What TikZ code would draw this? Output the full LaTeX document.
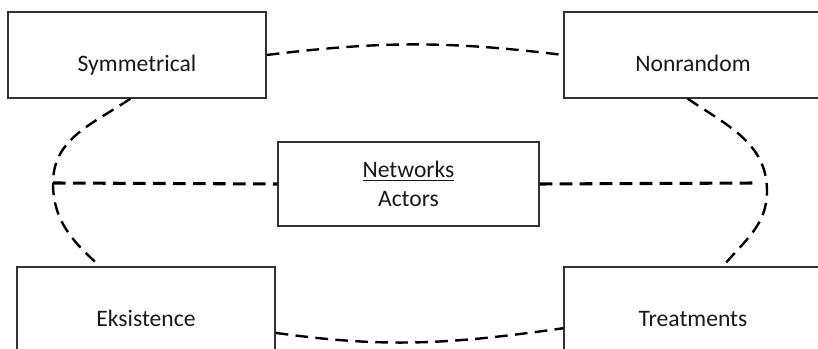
\documentclass[tikz,border=0pt]{standalone}
\usepackage{fontspec}
\setmainfont{Carlito}
\tikzset{
  BaseNode/.style = {draw=black!80, line width=1.1pt, inner sep=0pt, text=black!90, font=\fontsize{17.7}{21.5}\selectfont},
  CornerNode/.style = {BaseNode, rectangle, minimum width=193.5pt, minimum height=64.5pt, text height=45pt, text depth=19.5pt},
  HubNode/.style = {BaseNode, rectangle, align=center, minimum width=195.75pt, minimum height=63pt},
  ArcLine/.style = {line width=1.8pt, dash pattern=on 9.5pt off 5.5pt},
  SpokeLine/.style = {line width=2.3pt, dash pattern=on 9.5pt off 5.5pt},
}
\begin{document}
\begin{tikzpicture}[x=0.75pt,y=0.75pt]
    \useasboundingbox (0,0) rectangle (818,349);
    % the five boxes
    \node [CornerNode] (sym) at (137,294) {Symmetrical};
    \node [CornerNode] (non) at (693,294) {Nonrandom};
    \node [CornerNode] (eks) at (146,39) {Eksistence};
    \node [CornerNode] (tre) at (693,39) {Treatments};
    \node [HubNode] (cen) at (408.5,165) {\underline{Networks}\\Actors};
    % ends of the side arcs
    \coordinate (lft) at (53,166);
    \coordinate (rgt) at (767,158);
    \coordinate (rgtend) at (757,166);
    % dashed ring
    \draw [ArcLine] (sym.east) to[out=7,in=173] (non.west);
    \draw [ArcLine] (eks.-10) to[out=-8,in=-172] (tre.188);
    \draw [ArcLine] ([xshift=-5pt]sym.south) to[out=214,in=90] (lft)
        to[out=-90,in=138] ([xshift=-34.5pt]eks.north);
    \draw [ArcLine] ([xshift=-4pt]non.south) to[out=-34,in=90] (rgt)
        to[out=-90,in=50] ([xshift=22.5pt]tre.north);
    % spokes to the hub
    \draw [SpokeLine] (lft) -- (cen.west);
    \draw [SpokeLine] (cen.east) -- (rgtend);
\end{tikzpicture}
\end{document}
